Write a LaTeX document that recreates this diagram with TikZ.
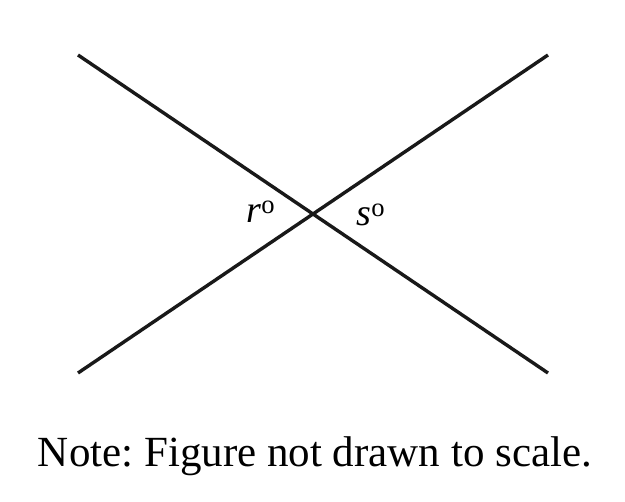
\documentclass[tikz,border=0pt]{standalone}
\usepackage{fontspec}
\setmainfont{Liberation Serif}
\frenchspacing
\begin{document}
\begin{tikzpicture}[x=1pt,y=-1pt,
  ln/.style={line width=3.4pt,black!90},
  lbl/.style={font=\fontsize{38}{38}\selectfont\itshape,inner sep=0pt}]
\useasboundingbox (0,0) rectangle (625,502);
\coordinate (a1) at (78,55);
\coordinate (a2) at (548,373);
\coordinate (b1) at (78,373);
\coordinate (b2) at (548,55);
\draw[ln] (a1) -- (a2);
\draw[ln] (b1) -- (b2);
\node[lbl] (r) at (261,212) {r\textsuperscript{\upshape o}};
\node[lbl] (s) at (371,215) {s\textsuperscript{\upshape o}};
\node[font=\fontsize{43}{43}\selectfont,inner sep=0pt] (note) at (315,456) {Note: Figure not drawn to scale.};
\end{tikzpicture}
\end{document}
